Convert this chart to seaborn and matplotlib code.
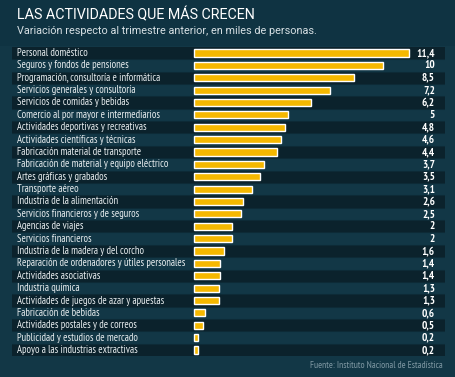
import matplotlib
matplotlib.use("Agg")
import matplotlib.pyplot as plt
import seaborn as sns
import pandas as pd

# Data
activities = [
    "Personal doméstico",
    "Seguros y fondos de pensiones",
    "Programación, consultoría e informática",
    "Servicios generales y consultoría",
    "Servicios de comidas y bebidas",
    "Comercio al por mayor e intermediarios",
    "Actividades deportivas y recreativas",
    "Actividades científicas y técnicas",
    "Fabricación material de transporte",
    "Fabricación de material y equipo eléctrico",
    "Artes gráficas y grabados",
    "Transporte aéreo",
    "Industria de la alimentación",
    "Servicios financieros y de seguros",
    "Agencias de viajes",
    "Servicios financieros",
    "Industria de la madera y del corcho",
    "Reparación de ordenadores y útiles personales",
    "Actividades asociativas",
    "Industria química",
    "Actividades de juegos de azar y apuestas",
    "Fabricación de bebidas",
    "Actividades postales y de correos",
    "Publicidad y estudios de mercado",
    "Apoyo a las industrias extractivas",
]
values = [11.4, 10, 8.5, 7.2, 6.2, 5, 4.8, 4.6, 4.4, 3.7, 3.5, 3.1, 2.6, 2.5,
          2, 2, 1.6, 1.4, 1.4, 1.3, 1.3, 0.6, 0.5, 0.2, 0.2]
value_labels = ["11,4", "10", "8,5", "7,2", "6,2", "5", "4,8", "4,6", "4,4", "3,7",
                "3,5", "3,1", "2,6", "2,5", "2", "2", "1,6", "1,4", "1,4", "1,3",
                "1,3", "0,6", "0,5", "0,2", "0,2"]

title = "LAS ACTIVIDADES QUE MÁS CRECEN"
subtitle = "Variación respecto al trimestre anterior, en miles de personas."
source = "Fuente: Instituto Nacional de Estadística"

BG = "#123746"
HEADER = "#0f3342"
DARK_ROW = "#0b222c"
SEP = "#0d2a36"
BAR = "#f5b800"

df = pd.DataFrame({"activity": activities, "value": values})

sns.set_theme(style="white")
plt.rcParams["font.family"] = ["PT Sans Narrow", "Roboto Condensed", "DejaVu Sans"]

W, H = 455, 377
fig = plt.figure(figsize=(W / 100, H / 100), dpi=100)
fig.patch.set_facecolor(BG)

# header band
fig.patches.append(plt.Rectangle((0, 1 - 46 / H), 1, 46 / H, transform=fig.transFigure,
                                 facecolor=HEADER, edgecolor="none", zorder=0))

# axes region in pixels
x0, x1 = 12, 445
y_top, y_bot = 46.8, 356.2
zero_px = 194
px_per_unit = 215 / 11.4

ax = fig.add_axes([x0 / W, 1 - y_bot / H, (x1 - x0) / W, (y_bot - y_top) / H])
ax.set_facecolor(BG)
n = len(activities)
ax.set_xlim((x0 - zero_px) / px_per_unit, (x1 - zero_px) / px_per_unit)
ax.set_ylim(n - 0.5, -0.5)

for i in range(n):
    if i % 2 == 0:
        ax.axhspan(i - 0.5, i + 0.5, color=DARK_ROW, zorder=0, lw=0)
    ax.axhline(i + 0.5, color=SEP, lw=0.8, zorder=0.5)

sns.barplot(data=df, x="value", y="activity", orient="h", color=BAR,
            saturation=1, width=0.58, ax=ax, zorder=2)

label_x = (17 - zero_px) / px_per_unit
val_x = (435 - zero_px) / px_per_unit
for i, (name, lab) in enumerate(zip(activities, value_labels)):
    ax.text(label_x, i, name, color="#e9eef0", fontsize=7.6, va="center", ha="left")
    ax.text(val_x, i, lab, color="white", fontsize=8, fontweight="bold",
            va="center", ha="right")

ax.set_xlabel("")
ax.set_ylabel("")
ax.set_xticks([])
ax.set_yticks([])
for s in ax.spines.values():
    s.set_visible(False)

fig.text(17 / W, 1 - 15 / H, title, color="white", fontsize=10.3,
         va="center", ha="left", family=["Roboto", "DejaVu Sans"])
fig.text(17 / W, 1 - 31 / H, subtitle, color="#d7e0e4", fontsize=7.85,
         va="center", ha="left", family=["Roboto", "DejaVu Sans"])
fig.text(443 / W, 1 - 366 / H, source, color="#7f98a3", fontsize=6.8,
         va="center", ha="right")

fig.savefig("out.png", dpi=100, facecolor=fig.get_facecolor())
